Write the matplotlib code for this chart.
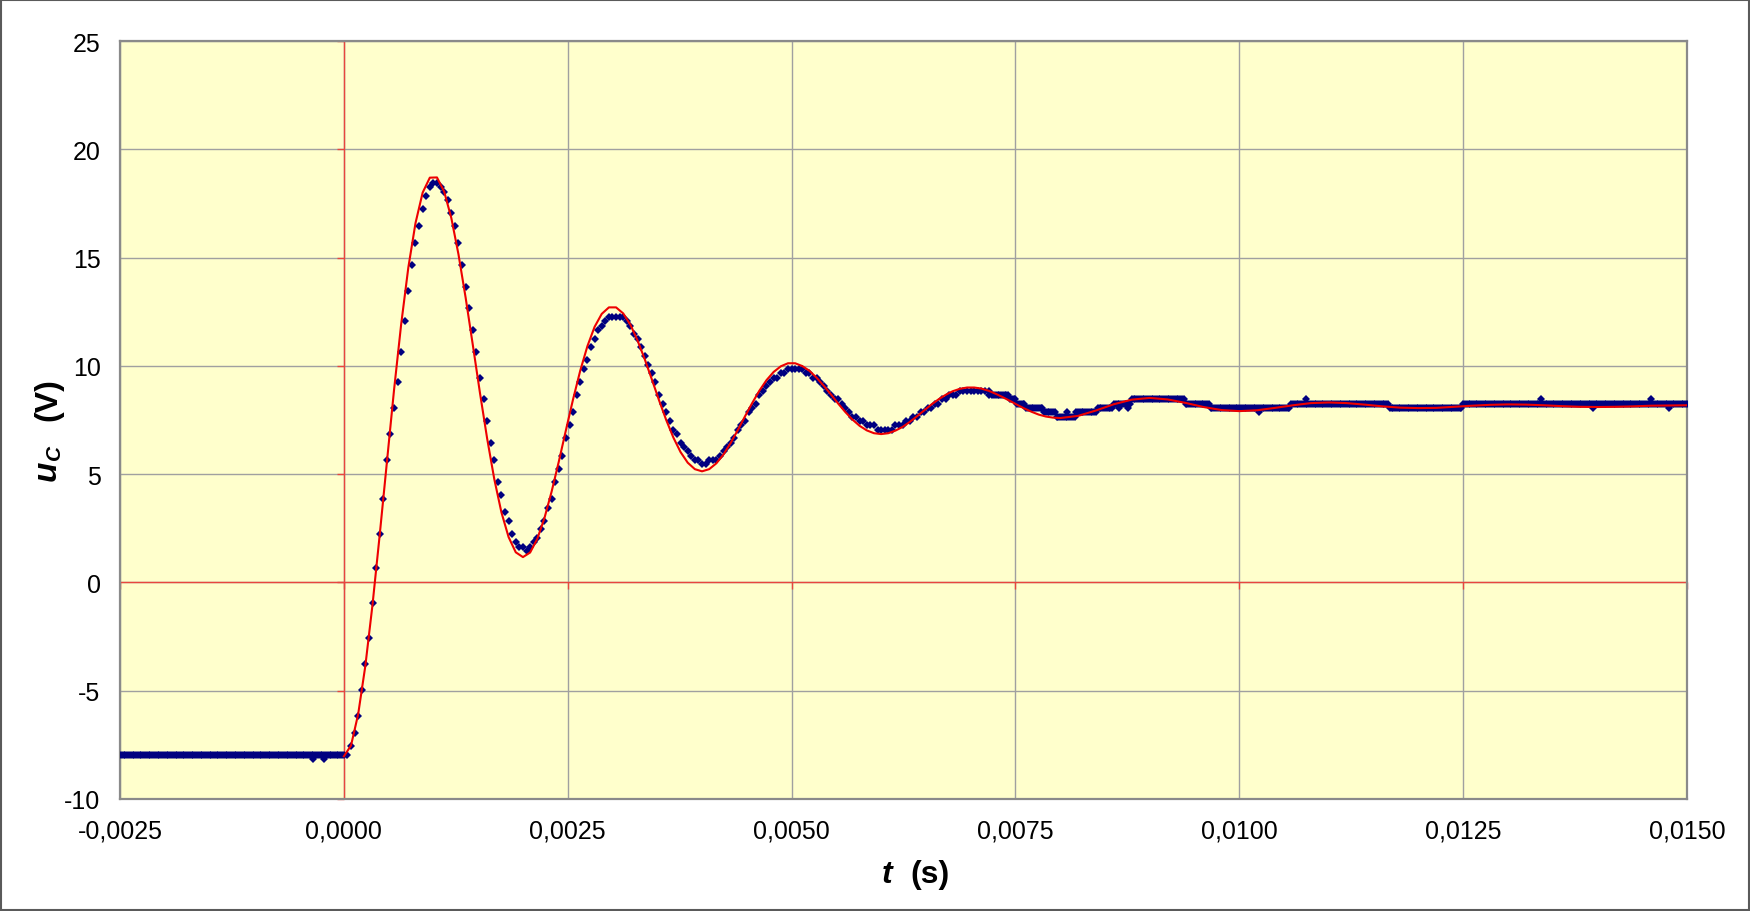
import numpy as np
import matplotlib
matplotlib.use('Agg')
import matplotlib.pyplot as plt
from matplotlib.patches import Rectangle
from matplotlib.lines import TICKLEFT, TICKDOWN

plt.rcParams['font.family'] = ['Liberation Sans', 'DejaVu Sans']
plt.rcParams['axes.unicode_minus'] = False

# --- Daten ---
# Modellkurve (rot): 0 ... 0.008 s im Abstand 0.00008 s
red_dt = 0.00008
red_u = [-8.03, -7.53, -6.08, -3.85, -1.03, 2.18, 5.55, 8.87, 11.92, 14.54,
         16.59, 18.00, 18.69, 18.70, 18.05, 16.83, 15.15, 13.15, 10.97, 8.75,
         6.65, 4.77, 3.23, 2.09, 1.39, 1.17, 1.38, 2.01, 2.97, 4.19,
         5.57, 7.03, 8.46, 9.78, 10.91, 11.80, 12.40, 12.70, 12.70, 12.42,
         11.90, 11.17, 10.31, 9.37, 8.41, 7.50, 6.69, 6.02, 5.53, 5.23,
         5.13, 5.23, 5.50, 5.91, 6.44, 7.04, 7.67, 8.28, 8.85, 9.34,
         9.72, 9.98, 10.12, 10.12, 9.99, 9.77, 9.45, 9.08, 8.68, 8.26,
         7.87, 7.52, 7.23, 7.02, 6.89, 6.85, 6.89, 7.01, 7.18, 7.41,
         7.67, 7.94, 8.21, 8.45, 8.66, 8.83, 8.94, 9.00, 9.00, 8.95,
         8.85, 8.71, 8.55, 8.38, 8.20, 8.03, 7.88, 7.75, 7.66, 7.61,
         7.59]
# Modellkurve, Rest: 0.0082 ... 0.015 s im Abstand 0.0002 s
red_tail_dt = 0.0002
red_tail_u = [7.69, 7.94, 8.23, 8.44, 8.52, 8.45, 8.29, 8.10, 7.96, 7.91,
              7.95, 8.06, 8.18, 8.28, 8.31, 8.28, 8.21, 8.13, 8.07, 8.05,
              8.06, 8.11, 8.16, 8.20, 8.22, 8.21, 8.18, 8.14, 8.11, 8.10,
              8.11, 8.13, 8.16, 8.17, 8.18]

# Messwerte (blau), Abtastung 0.00004 s
meas_dt = 0.00004
# Einschwingen 0 ... 0.0072 s
meas_u = [-7.95, -7.95, -7.55, -6.95, -6.15, -4.95, -3.75, -2.55, -0.95, 0.65,
          2.25, 3.85, 5.65, 6.85, 8.05, 9.25, 10.65, 12.05, 13.45, 14.65,
          15.65, 16.45, 17.25, 17.85, 18.25, 18.45, 18.45, 18.25, 18.05, 17.65,
          17.05, 16.45, 15.65, 14.65, 13.65, 12.65, 11.65, 10.65, 9.45, 8.45,
          7.45, 6.45, 5.65, 4.65, 4.05, 3.25, 2.85, 2.25, 1.85, 1.65,
          1.65, 1.45, 1.65, 1.85, 2.05, 2.45, 2.85, 3.45, 3.85, 4.65,
          5.25, 5.85, 6.65, 7.25, 7.85, 8.65, 9.25, 9.85, 10.25, 10.85,
          11.25, 11.65, 11.85, 12.05, 12.25, 12.25, 12.25, 12.25, 12.25, 12.05,
          11.85, 11.45, 11.25, 10.85, 10.45, 10.05, 9.65, 9.25, 8.65, 8.25,
          7.85, 7.45, 7.05, 6.85, 6.45, 6.25, 6.05, 5.85, 5.65, 5.65,
          5.45, 5.45, 5.65, 5.65, 5.65, 5.85, 6.05, 6.25, 6.45, 6.65,
          7.05, 7.25, 7.45, 7.85, 8.05, 8.25, 8.65, 8.85, 9.05, 9.25,
          9.45, 9.45, 9.65, 9.65, 9.85, 9.85, 9.85, 9.85, 9.85, 9.65,
          9.65, 9.45, 9.45, 9.25, 9.05, 8.85, 8.65, 8.45, 8.45, 8.25,
          8.05, 7.85, 7.65, 7.65, 7.45, 7.45, 7.25, 7.25, 7.25, 7.05,
          7.05, 7.05, 7.05, 7.05, 7.25, 7.25, 7.25, 7.45, 7.45, 7.65,
          7.65, 7.85, 7.85, 8.05, 8.05, 8.25, 8.25, 8.45, 8.45, 8.65,
          8.65, 8.65, 8.85, 8.85, 8.85, 8.85, 8.85, 8.85, 8.85, 8.85,
          8.85]
# konstante Abschnitte (Start, Ende, Pegel) - vor dem Schalten und Ausschwingen
seg_start = [-0.00250, 0.00724, 0.00744, 0.00752, 0.00762, 0.00782, 0.00796, 0.00818,
             0.00842, 0.00860, 0.00880, 0.00940, 0.00968, 0.01058, 0.01168, 0.01250]
seg_end = [0.00000, 0.00744, 0.00752, 0.00762, 0.00782, 0.00796, 0.00818, 0.00842,
           0.00860, 0.00880, 0.00940, 0.00968, 0.01058, 0.01168, 0.01250, 0.01502]
seg_level = [-7.95, 8.65, 8.45, 8.25, 8.05, 7.85, 7.65, 7.85,
             8.05, 8.25, 8.45, 8.25, 8.05, 8.25, 8.05, 8.25]
# einzelne Ausreisser
spike_t = [-0.00034, -0.00022, 0.00720, 0.00808, 0.00866, 0.00876, 0.01022,
           0.01074, 0.01337, 0.01395, 0.01460, 0.01480]
spike_u = [-8.15, -8.15, 8.65, 7.85, 8.05, 8.05, 7.85, 8.45, 8.45, 8.05, 8.45, 8.05]

x_ticks = [-0.0025, 0.0, 0.0025, 0.005, 0.0075, 0.01, 0.0125, 0.015]
x_labels = ['-0,0025', '0,0000', '0,0025', '0,0050', '0,0075', '0,0100', '0,0125', '0,0150']
y_ticks = [-10, -5, 0, 5, 10, 15, 20, 25]
y_labels = ['-10', '-5', '0', '5', '10', '15', '20', '25']

# --- Zeitachsen ---
t_red = np.arange(len(red_u)) * red_dt
t_red_tail = 0.008 + np.arange(1, len(red_tail_u) + 1) * red_tail_dt
t_meas = np.arange(len(meas_u)) * meas_dt

seg_t = []
seg_u = []
for s, e, v in zip(seg_start, seg_end, seg_level):
    tt = np.arange(s, e - 1e-9, meas_dt / 2)
    seg_t.append(tt)
    seg_u.append(np.full(len(tt), v))
seg_t = np.concatenate(seg_t)
seg_u = np.concatenate(seg_u)

# --- Plot ---
fig = plt.figure(figsize=(17.5, 9.12), dpi=100)
ax = fig.add_axes([120 / 1750, 1 - 800 / 912, 1567 / 1750, 758 / 912])
ax.set_facecolor('#ffffcc')
ax.set_xlim(-0.0025, 0.015)
ax.set_ylim(-10, 25)
ax.set_xticks(x_ticks)
ax.set_xticklabels(x_labels)
ax.set_yticks(y_ticks)
ax.set_yticklabels(y_labels)
ax.grid(color='#a0a0a0', lw=1.0, zorder=1)
for sp in ax.spines.values():
    sp.set_color('#8a8a8a')
    sp.set_linewidth(1.6)
ax.tick_params(axis='both', length=0, labelsize=18, colors='black')
ax.tick_params(axis='y', pad=14)
ax.tick_params(axis='x', pad=14)

axis_red = '#e8463e'
ax.axvline(0, color=axis_red, lw=1.0, zorder=1.8)
ax.axhline(0, color=axis_red, lw=1.0, zorder=1.8)
ax.plot(np.zeros(len(y_ticks)), y_ticks, ls='none', marker=TICKLEFT, ms=5,
        mew=1.0, color=axis_red, clip_on=False, zorder=1.8)
ax.plot(x_ticks, np.zeros(len(x_ticks)), ls='none', marker=TICKDOWN, ms=5,
        mew=1.0, color=axis_red, clip_on=False, zorder=1.8)

blue = '#000080'
ax.plot(seg_t, seg_u, ls='none', marker='D', ms=4.2, mew=0, color=blue, zorder=3)
ax.plot(t_meas, meas_u, ls='none', marker='D', ms=4.2, mew=0, color=blue, zorder=3)
ax.plot(spike_t, spike_u, ls='none', marker='D', ms=4.2, mew=0, color=blue, zorder=3)

ax.plot(np.concatenate([t_red, t_red_tail]), red_u + red_tail_u,
        color='#ee0000', lw=1.5, zorder=4)

# Achsenbeschriftungen
fig.text(887 / 1750, 1 - 883 / 912, 't', fontsize=23, fontweight='bold',
         style='italic', ha='center', va='baseline')
fig.text(910 / 1750, 1 - 883 / 912, '(s)', fontsize=23, fontweight='bold',
         ha='left', va='baseline')
fig.text(56 / 1750, 1 - 471 / 912, 'u', fontsize=24, fontweight='bold', style='italic',
         rotation=90, rotation_mode='anchor', ha='center', va='baseline')
fig.text(60 / 1750, 1 - 452 / 912, 'C', fontsize=15, fontweight='bold', style='italic',
         rotation=90, rotation_mode='anchor', ha='center', va='baseline')
fig.text(56 / 1750, 1 - 400 / 912, '(V)', fontsize=23, fontweight='bold',
         rotation=90, rotation_mode='anchor', ha='center', va='baseline')

fig.patches.append(Rectangle((0.0008, 0.0012), 0.9984, 0.9976, transform=fig.transFigure,
                             fill=False, edgecolor='#5a5a5a', lw=1.5))

fig.savefig('out.png', dpi=100)
